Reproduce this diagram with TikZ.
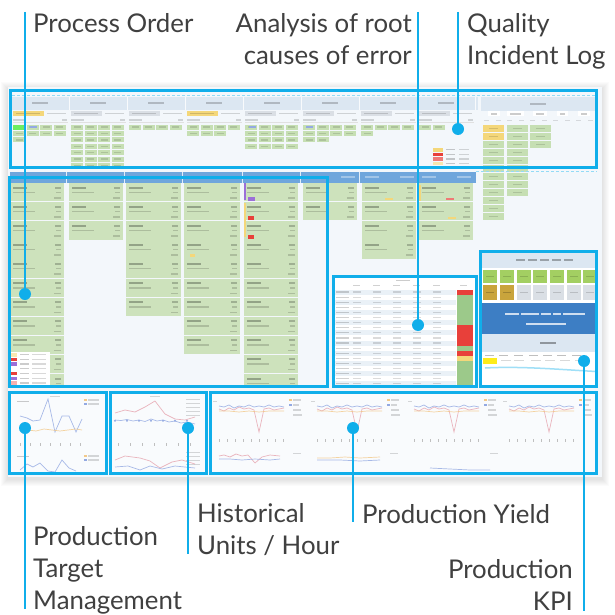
\documentclass[tikz,border=0pt]{standalone}
\usepackage{fontspec}
\setmainfont{Lato}
\definecolor{cy}{HTML}{10AEEA}
\definecolor{tx}{HTML}{404040}
\definecolor{scbg}{HTML}{F3F7FB}
\definecolor{band}{HTML}{DCE7F2}
\definecolor{gcard}{HTML}{CDE2BC}
\definecolor{gcell}{HTML}{C6DFB3}
\definecolor{hdr}{HTML}{6FA6DC}
\definecolor{kblue}{HTML}{3D7EC4}
\definecolor{lime}{HTML}{A3CF62}
\definecolor{gold}{HTML}{C9A43C}
\definecolor{ylw}{HTML}{F4D77A}
\definecolor{rd}{HTML}{E8403A}
\definecolor{pur}{HTML}{9B6FD8}
\definecolor{tgrn}{HTML}{9CC98A}
\definecolor{ln1}{HTML}{E6A3AE}
\definecolor{ln2}{HTML}{93A9E2}
\definecolor{ln3}{HTML}{F2C98A}
\definecolor{lgry}{HTML}{DADFE5}
\tikzset{
 callbox/.style={draw=cy, line width=3pt},
 lead/.style={draw=cy, line width=2.6pt},
 dotnode/.style={circle, fill=cy, minimum size=12pt, inner sep=0pt},
 lbl/.style={text=tx, inner sep=0pt, font=\fontsize{25.8}{32}\selectfont},
 tbar/.style={fill=black, opacity=0.22},
 chl/.style={line width=0.7pt, opacity=0.8},
 dashln/.style={draw=cy!45, line width=0.8pt, dash pattern=on 3pt off 2pt},
}
\newcommand\gcellsfull[3]{%
 \foreach \r in {#2,...,#3}{\foreach \c in {0,...,3}{%
  \fill[gcell] (#1+1+\c*13.5, 124.5+\r*6.4) rectangle ++(12,5);
  \fill[tbar,opacity=.13] (#1+3.5+\c*13.5,126.3+\r*6.4) rectangle ++(7,1.4);}}}
\newcommand\gcellrow[3]{%
 \foreach \c in {1,...,#3}{%
  \fill[gcell] (#1+1+\c*13.5-13.5, 124.5+#2*6.4) rectangle ++(12,5);
  \fill[tbar,opacity=.13] (#1+3.5+\c*13.5-13.5,126.3+#2*6.4) rectangle ++(7,1.4);}}
\newcommand\cardcol[3]{%
 \foreach \k in {1,...,#3}{%
  \pgfmathsetmacro\yy{183+(\k-1)*19.1}
  \fill[gcard] (#1,\yy) rectangle (#2,\yy+18.3);
  \fill[tbar,opacity=.28] (#1+3,\yy+3.5) rectangle ++(14,2);
  \fill[tbar,opacity=.16] (#1+3,\yy+8.5) rectangle ++(22,1.5);
  \fill[tbar,opacity=.22] (#2-9,\yy+3.5) rectangle ++(6,2);
  \fill[tbar,opacity=.16] (#2-8,\yy+8.5) rectangle ++(5,1.5);
  \fill[tbar,opacity=.16] (#2-10,\yy+14) rectangle ++(7,1.5);}}
\newcommand\ychart[2]{%
 \begin{scope}[shift={(#1,#2)}]
  \fill[tbar,opacity=.15] (-2,4) rectangle ++(4,1.2);
  \fill[ln3] (74,2) rectangle ++(3,2); \fill[tbar,opacity=.15] (78,2.3) rectangle ++(8,1.4);
  \fill[ln2] (74,7) rectangle ++(3,2); \fill[tbar,opacity=.15] (78,7.3) rectangle ++(6,1.4);
  \fill[tbar,opacity=.15] (78,12.3) rectangle ++(8,1.4);
  \fill[tbar,opacity=.15] (78,17.3) rectangle ++(9,1.4);
  \draw[ln1,chl] (4,12) -- (9,14) -- (14,11) -- (19,13) -- (24,10) -- (29,12) -- (34,11) -- (39,13) -- (44,35) -- (49,12) -- (54,11) -- (59,13) -- (64,12) -- (69,11);
  \draw[ln2,chl] (4,9) -- (9,10) -- (14,8) -- (19,11) -- (24,9) -- (29,10) -- (34,8) -- (39,10) -- (44,9) -- (49,10) -- (54,8) -- (59,10) -- (64,9) -- (69,10);
  \draw[ln3,chl] (4,14) -- (14,14) -- (24,15) -- (34,14) -- (44,15) -- (54,14) -- (69,14);
  \foreach \t in {4,12,...,68} \draw[black!25, line width=.5pt] (\t,42) -- (\t,45);
 \end{scope}}
\begin{document}
\begin{tikzpicture}[x=1pt,y=-1pt]
\useasboundingbox (0,0) rectangle (614,615);
\fill[white] (0,0) rectangle (614,615);
% ---------- screenshot with soft shadow
\foreach \i in {1,...,7}{\fill[black,opacity=0.016] (8-\i,87-\i+2) rectangle (602+\i,477+\i+2);}
\fill[scbg] (8,87) rectangle (602,477);

% ---------- top strip
\draw[dashln] (12,95.5) -- (597,95.5);
\fill[band] (12,97) rectangle (478,110);
\fill[band] (481,97) rectangle (596,111);
\foreach \gx/\lc in {12/ylw,70/lgry,128/lgry,186/ylw,244/lgry,302/lgry,360/lgry,418/lgry}{
  \fill[white,opacity=.8] (\gx+56.5,97) rectangle (\gx+57.5,110);
  \fill[tbar,opacity=.2] (\gx+20,102.5) rectangle ++(16,2);
  \fill[\lc] (\gx+1,111.5) rectangle (\gx+32,116);
  \fill[tbar,opacity=.15] (\gx+4,113) rectangle ++(24,1.5);
  \fill[tbar,opacity=.15] (\gx+35,113) rectangle ++(19,1.5);
  \fill[tbar,opacity=.15] (\gx+1,119.5) rectangle ++(13,1.5);
  \fill[tbar,opacity=.15] (\gx+50,119.5) rectangle ++(5,1.5);
  \draw[black!12, line width=.4pt] (\gx+1,122.5) -- (\gx+56,122.5);
}
\gcellsfull{12}{0}{1}\gcellrow{12}{2}{1}
\fill[green!45!gcell] (13,124.5) rectangle ++(12,5);
\fill[ln2] (29.5,126.3) rectangle ++(7,1.6);
\gcellsfull{70}{0}{6}
\gcellsfull{128}{0}{0}
\gcellsfull{186}{0}{0}\gcellrow{186}{1}{3}
\gcellsfull{244}{0}{3}
\fill[ln2] (249,126.3) rectangle ++(7,1.6);
\gcellsfull{302}{0}{1}\gcellrow{302}{2}{2}
\fill[ln2] (305.5,126.3) rectangle ++(7,1.6);
\gcellsfull{360}{0}{0}\gcellrow{360}{1}{1}
\gcellrow{418}{0}{2}
% right group of the top strip
\fill[tbar,opacity=.2] (530,103) rectangle ++(16,2);
\foreach \bx/\bw in {488/12,507/17,533/14,557/11,578/12}{
  \fill[white] (\bx,111.5) rectangle ++(\bw,5);
  \fill[tbar,opacity=.2] (\bx+3,113.3) rectangle ++(\bw-6,1.4);}
\foreach \bx in {484,496,507,519,530,542,553,565,576,588}
  \fill[tbar,opacity=.12] (\bx,120) rectangle ++(5,1.3);
\foreach \k in {0,...,11}{
  \fill[gcell] (483,124.5+\k*8) rectangle ++(21,7.2);
  \fill[tbar,opacity=.13] (489,127.5+\k*8) rectangle ++(9,1.4);}
\fill[ylw] (483,124.5) rectangle ++(21,7.2);
\fill[ylw] (483,132.5) rectangle ++(21,7.2);
\fill[tbar,opacity=.13] (489,127.5) rectangle ++(9,1.4);
\fill[tbar,opacity=.13] (489,135.5) rectangle ++(9,1.4);
\foreach \k in {0,...,8}{
  \fill[gcell] (507,124.5+\k*8) rectangle ++(21,7.2);
  \fill[tbar,opacity=.13] (513,127.5+\k*8) rectangle ++(9,1.4);}
\foreach \k in {0,...,2}{
  \fill[gcell] (530,124.5+\k*8) rectangle ++(21,7.2);
  \fill[tbar,opacity=.13] (536,127.5+\k*8) rectangle ++(9,1.4);}
% small legend
\foreach \k/\lc in {0/ylw,1/rd,2/rd!70,3/ylw!60}{
  \fill[\lc] (433,148+\k*4.6) rectangle ++(10,3.6);
  \fill[tbar,opacity=.2] (446,149+\k*4.6) rectangle ++(9,1.4);
  \fill[tbar,opacity=.15] (459,149+\k*4.6) rectangle ++(10,1.4);}

% ---------- middle section
\draw[dashln] (476,171.5) -- (597,171.5);
\fill[hdr] (10,172) rectangle (476,182.5);
\foreach \sx in {66.5,124.5,182.5,242,300.5,359.5,417.5}
  \fill[white,opacity=.8] (\sx-.5,172) rectangle (\sx+.5,182.5);
\foreach \sx in {10,69,126,184,244,303,362,419}{
  \fill[white,opacity=.35] (\sx+3,176) rectangle ++(14,2);
  \fill[white,opacity=.35] (\sx+38,176) rectangle ++(14,2);}
\begin{scope}
\clip (10,170) rectangle (597,386.5);
\cardcol{10}{64}{11}
\cardcol{69}{123}{3}
\cardcol{126}{181}{7}
\cardcol{184}{240}{9}
\cardcol{244}{298}{11}
\cardcol{303}{357}{2}
\cardcol{362}{416}{4}
\cardcol{419}{473}{3}
\end{scope}
% markers in cards
\fill[pur] (244,183) rectangle (246,200);
\fill[ylw] (244,203) rectangle (246,237);
\fill[pur] (248,197) rectangle ++(7,3.5);
\fill[rd] (248,216) rectangle ++(6,3.5);
\fill[rd] (248,235) rectangle ++(6,3.5);
\fill[ylw] (190,254) rectangle ++(5,3);
\fill[ylw] (419,185) rectangle ++(2,16);
\fill[rd!70] (446,198) rectangle ++(8,1.8);
\fill[ylw] (385,198) rectangle ++(8,1.8);
\fill[ylw] (448,217) rectangle ++(8,1.8);
% legend in first column
\fill[white] (10,351.5) rectangle (50,386);
\foreach \k/\lc in {0/ylw!60,1/rd,2/pur,3/white,4/rd,5/pur,6/rd!40}{
  \fill[\lc] (10,353+\k*4.7) rectangle ++(7,3.6);
  \fill[tbar,opacity=.2] (20,354+\k*4.7) rectangle ++(9,1.3);
  \fill[tbar,opacity=.15] (32,354+\k*4.7) rectangle ++(14,1.3);}

% ---------- root cause table
\fill[white] (334,277) rectangle (476,386);
\fill[tbar,opacity=.2] (396,279.5) rectangle ++(14,1.6);
\foreach \cx in {353,373,393,413,433,460}
  \fill[tbar,opacity=.18] (\cx,284.5) rectangle ++(7,1.4);
\foreach \k in {0,...,18}{
  \pgfmathsetmacro\ry{289.5+\k*5.1}
  \ifodd\k\else\fill[band!60] (334,\ry) rectangle (456,\ry+5.1);\fi
  \fill[tbar,opacity=.18] (336,\ry+1.9) rectangle ++(13,1.2);
  \foreach \cx in {353,373,393,413,433}
    \fill[tbar,opacity=.14] (\cx,\ry+1.9) rectangle ++(8,1.2);
  \fill[tgrn] (457,\ry) rectangle (473,\ry+5.1);
}
\fill[rd] (457,289.5) rectangle (473,294.6);
\fill[rd] (457,325.2) rectangle (473,345.6);
\fill[rd] (457,350.7) rectangle (473,355.8);
\fill[ylw] (457,355.8) rectangle (473,360.9);

% ---------- KPI panel
\fill[white] (482,252) rectangle (596,386);
\fill[band] (482,252) rectangle (596,268);
\foreach \tx in {516,528,540,552,564}
  \fill[tbar,opacity=.3] (\tx,259) rectangle ++(9,2);
\foreach \sx in {483,500,517,533,550,567,583}{
  \fill[lime] (\sx,269.5) rectangle ++(14,13.5);
  \fill[tbar,opacity=.15] (\sx+3,275.5) rectangle ++(8,1.4);
  \fill[lgry] (\sx,285) rectangle ++(14,15);
  \fill[tbar,opacity=.15] (\sx+3,291.8) rectangle ++(8,1.4);}
\foreach \sx in {483,500}{
  \fill[gold] (\sx,285) rectangle ++(14,15);
  \fill[tbar,opacity=.2] (\sx+3,291.8) rectangle ++(8,1.4);}
\fill[kblue] (482,303) rectangle (596,334);
\foreach \tx/\tw in {505/14,521/18,541/10,553/8,563/22}
  \fill[white,opacity=.75] (\tx,313) rectangle ++(\tw,2.4);
\fill[white,opacity=.75] (526,322.5) rectangle ++(40,2.4);
\fill[band] (482,334) rectangle (596,352);
\fill[tbar,opacity=.35] (540,342) rectangle ++(16,2);
\foreach \tx in {485,499,514,529,543,557,572}
  \fill[tbar,opacity=.25] (\tx,355) rectangle ++(9,1.4);
\fill[yellow!80!ylw] (483,358) rectangle (497,363.5);
\foreach \tx in {501,514,531,545,560,575}
  \fill[tbar,opacity=.15] (\tx,360) rectangle ++(10,1.4);
\draw[cy!40, line width=1.5pt] (485,368) .. controls (520,366) and (560,369.5) .. (596,371.5);

% ---------- bottom charts
\fill[white,opacity=.5] (10,392) rectangle (596,474);
% production target
\fill[tbar,opacity=.15] (50,396) rectangle ++(10,1.3);
\fill[tbar,opacity=.2] (17,401) rectangle ++(12,1.4);
\fill[ln3] (84,399) rectangle ++(3,2); \fill[tbar,opacity=.15] (88,399.3) rectangle ++(11,1.4);
\fill[ln2] (84,403) rectangle ++(3,2); \fill[tbar,opacity=.15] (88,403.3) rectangle ++(11,1.4);
\draw[ln2,chl] (20,416) -- (27,418) -- (33,421) -- (40,420) -- (48,399) -- (55,432) -- (62,416) -- (69,416) -- (76,432) -- (82,419);
\draw[ln3,chl] (20,431) -- (28,430) -- (36,431) -- (44,429) -- (52,430) -- (60,431) -- (68,430) -- (76,429) -- (82,430);
\foreach \t in {20,30,...,80} \draw[black!25, line width=.5pt] (\t,443) -- (\t,446);
\fill[tbar,opacity=.2] (17,456) rectangle ++(12,1.4);
\fill[ln3] (84,455) rectangle ++(3,2); \fill[tbar,opacity=.15] (88,455.3) rectangle ++(11,1.4);
\fill[ln2] (84,459) rectangle ++(3,2); \fill[tbar,opacity=.15] (88,459.3) rectangle ++(11,1.4);
\draw[ln2,chl] (20,470) -- (27,464) -- (33,467) -- (40,463) -- (48,471) -- (55,472) -- (62,460) -- (69,468) -- (76,471);
% historical units/hour
\fill[tbar,opacity=.15] (150,396) rectangle ++(10,1.3);
\foreach \k in {0,...,4} \fill[tbar,opacity=.15] (186,399+\k*4) rectangle ++(14,1.4);
\draw[ln1,chl] (115,413) -- (125,410) -- (135,412) -- (145,407) -- (155,401) -- (165,414) -- (175,419) -- (185,420) -- (195,417);
\draw[ln2,chl] (115,420) -- (121,420.5) -- (127,419.5) -- (133,421) -- (139,420) -- (145,421.5) -- (151,419) -- (157,421) -- (163,420) -- (169,422) -- (175,421) -- (181,423) -- (187,422) -- (195,424);
\foreach \mx in {115,127,139,151,163,175,187} \fill[ln2] (\mx,420.8) circle (1.1pt);
\draw[ln1,chl] (115,460) -- (125,456) -- (140,458) -- (150,461) -- (160,468) -- (172,462) -- (182,460) -- (195,464);
\draw[ln2,chl] (115,467) -- (128,466) -- (140,470) -- (150,466) -- (162,469) -- (175,466) -- (195,468);
\foreach \k in {0,...,3} \fill[tbar,opacity=.15] (186,452+\k*4) rectangle ++(14,1.4);
\foreach \t in {118,130,...,190} \draw[black!25, line width=.5pt] (\t,443) -- (\t,446);
% production yield
\ychart{215}{397}
\ychart{313}{397}
\ychart{410}{397}
\ychart{505}{397}
\begin{scope}
\clip (212,450) rectangle (595,472);
\draw[ln1,chl] (219,456) -- (224,455) -- (230,457) -- (236,454) -- (242,456) -- (248,455) -- (255,463) -- (262,457) -- (270,455) -- (280,456);
\draw[ln2,chl] (219,459) -- (230,459) -- (242,460) -- (255,459) -- (270,460) -- (280,459);
\draw[ln3,chl] (317,458) -- (330,458) -- (345,457) -- (360,458) -- (380,457);
\draw[ln2,chl] (317,460) -- (340,460) -- (360,461) -- (380,460);
\draw[ln2,chl] (430,468) -- (450,469) -- (470,470) -- (490,470);
\fill[tbar,opacity=.15] (490,453) rectangle ++(8,1.4);
\fill[tbar,opacity=.15] (293,453) rectangle ++(8,1.4);
\fill[tbar,opacity=.15] (390,453) rectangle ++(8,1.4);
\end{scope}

% ---------- callout boxes
\draw[callbox] (10.5,91) rectangle (596.5,167);
\draw[callbox] (9.5,177) rectangle (327,386.5);
\draw[callbox] (333,276.5) rectangle (476,386.5);
\draw[callbox] (480.5,251.5) rectangle (596,386.5);
\draw[callbox] (9.5,392.5) rectangle (106,473);
\draw[callbox] (110,392.5) rectangle (206,473);
\draw[callbox] (210,392.5) rectangle (596.5,473);

% ---------- leaders and labels
\node[dotnode] (dpo) at (25,294) {};
\node[dotnode] (dar) at (418,325) {};
\node[dotnode] (dqi) at (458,129) {};
\node[dotnode] (dpt) at (25,428) {};
\node[dotnode] (dhu) at (188,428) {};
\node[dotnode] (dpy) at (353,428) {};
\node[dotnode] (dkp) at (584,361) {};
\coordinate (epo) at (25,12);
\coordinate (ear) at (418,12);
\coordinate (eqi) at (458,12);
\coordinate (ept) at (25,609);
\coordinate (ehu) at (188,554);
\coordinate (epy) at (353,522);
\coordinate (ekp) at (584,611);
\draw[lead] (epo) -- (dpo.center);
\draw[lead] (ear) -- (dar.center);
\draw[lead] (eqi) -- (dqi.center);
\draw[lead] (dpt.center) -- (ept);
\draw[lead] (dhu.center) -- (ehu);
\draw[lead] (dpy.center) -- (epy);
\draw[lead] (dkp.center) -- (ekp);

\node[lbl, anchor=base west] (lpo) at (33,33) {Process Order};
\node[lbl, anchor=base east, align=right] (lar) at (412,65) {Analysis of root\\causes of error};
\node[lbl, anchor=base west, align=left] (lqi) at (467,65) {Quality\\Incident Log};
\node[lbl, anchor=base west, align=left] (lpt) at (33,609) {Production\\Target\\Management};
\node[lbl, anchor=base west, align=left] (lhu) at (197,554) {Historical\\Units / Hour};
\node[lbl, anchor=base west] (lpy) at (362,523) {Production Yield};
\node[lbl, anchor=base east, align=right] (lkp) at (573,610) {Production\\KPI};
\end{tikzpicture}
\end{document}
